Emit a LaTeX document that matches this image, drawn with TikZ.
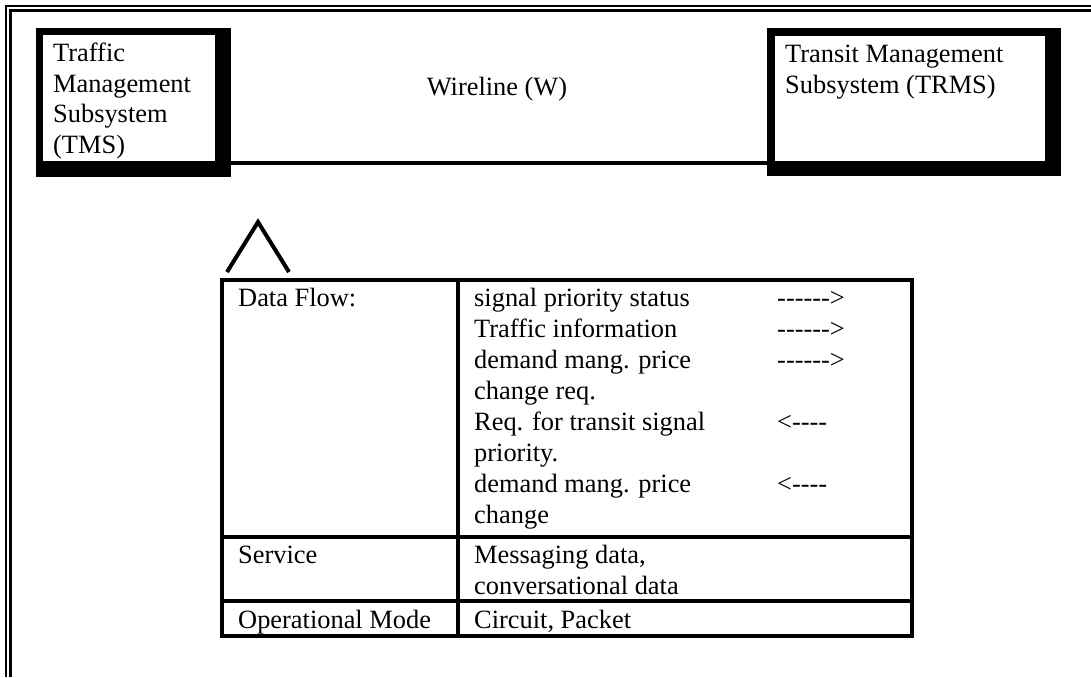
\documentclass[tikz,border=0pt]{standalone}
\usepackage{fontspec}
\setmainfont{Liberation Serif}
\newcommand{\rarr}{-{}-{}-{}-{}-{}-{}>}
\newcommand{\larr}{<{}-{}-{}-{}-}
\begin{document}
\begin{tikzpicture}[x=1pt,y=-1pt,
  txt/.style={anchor=base west, inner sep=0pt, font=\fontsize{26.4}{31}\selectfont},
  midtxt/.style={anchor=base, inner sep=0pt, font=\fontsize{26.4}{31}\selectfont},
  shadowbox/.style={fill=black, draw=none, inner sep=0pt, anchor=north west},
  innerbox/.style={fill=white, draw=none, inner sep=0pt, anchor=north west},
  wire/.style={line width=4.6pt},
  rule/.style={line width=3.6pt},
  frame/.style={line cap=butt},
]
\useasboundingbox (0,0) rectangle (1091,677);
\fill[white] (0,0) rectangle (1091,677);

% outer double frame (top and left)
\draw[frame, line width=1.8pt] (5.8,677) -- (5.8,5.8) -- (1091,5.8);
\draw[frame, line width=2.8pt] (10.8,677) -- (10.8,10.8) -- (1091,10.8);

% TMS box
\node[shadowbox, minimum width=195pt, minimum height=149pt] (tms) at (36,28) {};
\node[innerbox, minimum width=172pt, minimum height=126pt] (tmsin) at (43,35) {};
\node[txt] (tms1) at (53,62) {Traffic};
\node[txt] (tms2) at (53,92) {Management};
\node[txt] (tms3) at (53,122) {Subsystem};
\node[txt] (tms4) at (53,153) {(TMS)};

% TRMS box
\node[shadowbox, minimum width=294pt, minimum height=148pt] (trms) at (767,28) {};
\node[innerbox, minimum width=270pt, minimum height=125pt] (trmsin) at (775,36) {};
\node[txt] (trms1) at (785,63) {Transit Management};
\node[txt] (trms2) at (785,93) {Subsystem (TRMS)};

% wireline connector
\coordinate (wy) at (0,163);
\draw[wire] (tms.east |- wy) -- (trms.west |- wy);
\node[midtxt] (wl) at (497,95) {Wireline (W)};

% caret
\draw[line width=4pt, line join=miter] (227,272) -- (258,222) -- (289,272);

% table
\draw[rule] (222,280) rectangle (912,636);
\draw[rule] (458,280) -- (458,636);
\draw[rule] (222,537) -- (912,537);
\draw[rule] (222,601) -- (912,601);

\node[txt] (df) at (238,306) {Data Flow:};
\node[txt] (f1) at (474,306) {signal priority status};
\node[txt] (f2) at (474,337) {Traffic information};
\node[txt] (f3) at (474,368) {demand mang. price};
\node[txt] (f4) at (474,399) {change req.};
\node[txt] (f5) at (474,430) {Req. for transit signal};
\node[txt] (f6) at (474,461) {priority.};
\node[txt] (f7) at (474,492) {demand mang. price};
\node[txt] (f8) at (474,523) {change};
\node[txt] (a1) at (777,306) {\rarr};
\node[txt] (a2) at (777,337) {\rarr};
\node[txt] (a3) at (777,368) {\rarr};
\node[txt] (a5) at (777,430) {\larr};
\node[txt] (a7) at (777,492) {\larr};

\node[txt] (sv) at (238,563) {Service};
\node[txt] (sv1) at (474,563) {Messaging data,};
\node[txt] (sv2) at (474,594) {conversational data};

\node[txt] (om) at (238,628) {Operational Mode};
\node[txt] (om1) at (474,628) {Circuit, Packet};
\end{tikzpicture}
\end{document}
